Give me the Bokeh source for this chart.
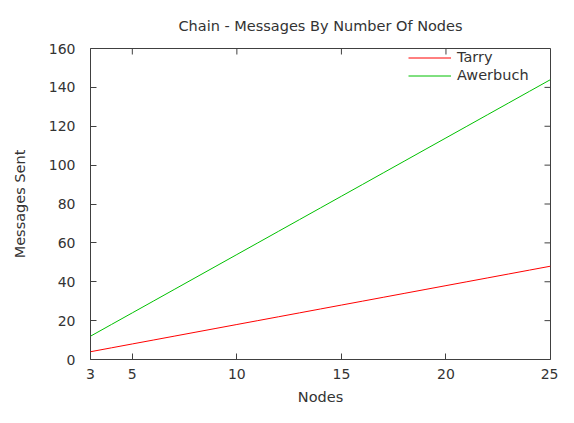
from bokeh.plotting import figure
from bokeh.models import FixedTicker, Legend, LegendItem, Range1d
from bokeh.embed import file_html
from bokeh.resources import INLINE

# Data
nodes = [3, 4, 5, 6, 7, 8, 9, 10, 11, 12, 13, 14, 15, 16, 17, 18, 19, 20, 21, 22, 23, 24, 25]
tarry = [4, 6, 8, 10, 12, 14, 16, 18, 20, 22, 24, 26, 28, 30, 32, 34, 36, 38, 40, 42, 44, 46, 48]
awerbuch = [12, 18, 24, 30, 36, 42, 48, 54, 60, 66, 72, 78, 84, 90, 96, 102, 108, 114, 120,
            126, 132, 138, 144]
x_ticks = [3, 5, 10, 15, 20, 25]
y_ticks = [0, 20, 40, 60, 80, 100, 120, 140, 160]
x_min, x_max = 3, 25
y_min, y_max = 0, 160

FONT = "DejaVu Sans"
TXT = "#333333"
AX = "#404040"

p = figure(width=558, height=407, x_range=Range1d(x_min, x_max), y_range=Range1d(y_min, y_max),
           output_backend="svg", toolbar_location=None,
           min_border_left=90, min_border_right=8, min_border_top=44, min_border_bottom=45)

p.title.text = "Chain - Messages By Number Of Nodes"
p.title.align = "center"
p.title.text_font = FONT
p.title.text_font_size = "14.5px"
p.title.text_font_style = "normal"
p.title.text_color = TXT
p.title.standoff = 30

p.outline_line_color = AX
p.outline_line_width = 1
p.outline_line_alpha = 1
p.xgrid.visible = False
p.ygrid.visible = False
p.background_fill_color = "white"
p.border_fill_color = "white"

def style_axis(ax, ticks):
    ax.ticker = FixedTicker(ticks=ticks)
    ax.axis_line_color = None
    ax.major_tick_in = 6
    ax.major_tick_out = 0
    ax.major_tick_line_color = AX
    ax.minor_tick_line_color = None
    ax.major_label_text_font = FONT
    ax.major_label_text_font_size = "14px"
    ax.major_label_text_color = TXT
    ax.axis_label_text_font = FONT
    ax.axis_label_text_font_size = "14.5px"
    ax.axis_label_text_font_style = "normal"
    ax.axis_label_text_color = TXT

style_axis(p.xaxis[0], x_ticks)
style_axis(p.yaxis[0], y_ticks)
p.xaxis[0].axis_label = "Nodes"
p.yaxis[0].axis_label = "Messages Sent"
p.xaxis[0].major_label_standoff = 9
p.xaxis[0].axis_label_standoff = 7
p.yaxis[0].major_label_standoff = 15
p.yaxis[0].axis_label_standoff = 18

# mirrored inward tick marks on the top and right borders
p.ray(x=x_ticks, y=[y_max] * len(x_ticks), length=6, length_units="screen",
      angle=-90, angle_units="deg", line_color=AX, line_width=1)
p.ray(x=[x_max] * len(y_ticks), y=y_ticks, length=6, length_units="screen",
      angle=180, angle_units="deg", line_color=AX, line_width=1)

r1 = p.line(nodes, tarry, line_color="#ff0000", line_width=1)
r2 = p.line(nodes, awerbuch, line_color="#00c000", line_width=1)

legend = Legend(items=[LegendItem(label="Tarry", renderers=[r1]),
                       LegendItem(label="Awerbuch", renderers=[r2])],
                location=(318, 276), border_line_color=None, background_fill_alpha=0,
                label_text_font=FONT, label_text_font_size="14.5px", label_text_color=TXT,
                glyph_width=43, glyph_height=15, label_height=15, spacing=2, padding=2,
                margin=0, label_standoff=6)
p.add_layout(legend)

open("out.html", "w").write(file_html(p, INLINE))
